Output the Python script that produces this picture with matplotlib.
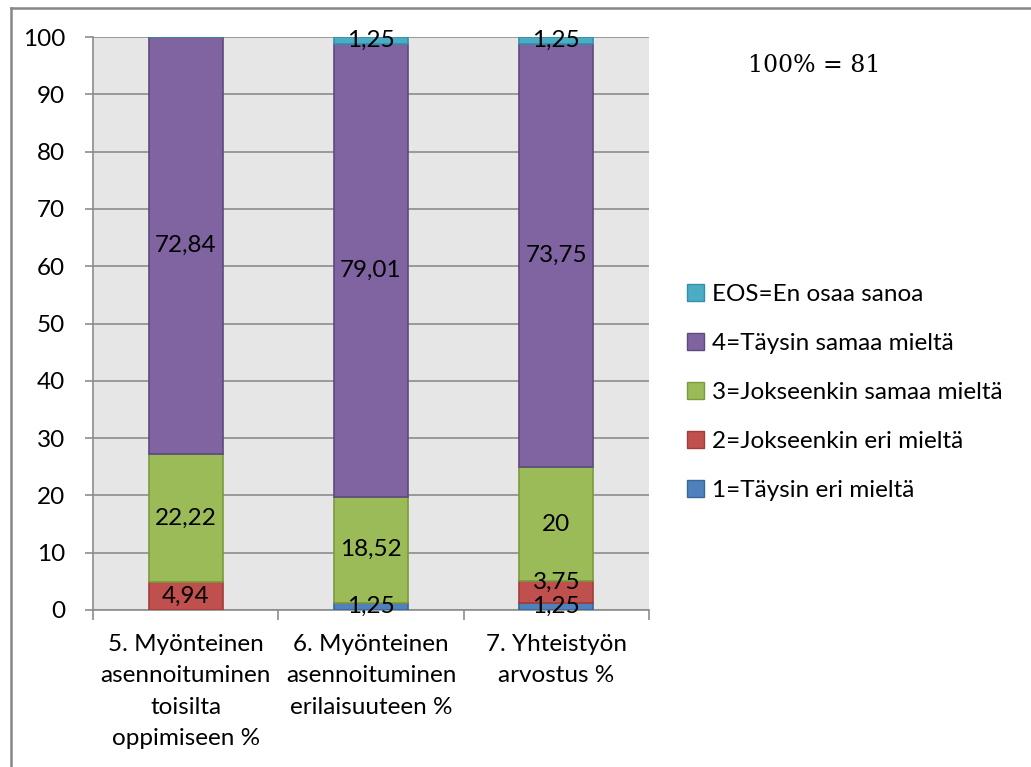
import matplotlib
matplotlib.use("Agg")
import matplotlib.pyplot as plt
from matplotlib.patches import Patch
from matplotlib.lines import Line2D

categories = ["5. Myönteinen\nasennoituminen\ntoisilta\noppimiseen %",
              "6. Myönteinen\nasennoituminen\nerilaisuuteen %",
              "7. Yhteistyön\narvostus %"]
series_names = ["1=Täysin eri mieltä", "2=Jokseenkin eri mieltä",
                "3=Jokseenkin samaa mieltä", "4=Täysin samaa mieltä",
                "EOS=En osaa sanoa"]
v1 = [0, 1.25, 1.25]
v2 = [4.94, 0, 3.75]
v3 = [22.22, 18.52, 20]
v4 = [72.84, 79.01, 73.75]
v_eos = [0, 1.25, 1.25]
series_values = [v1, v2, v3, v4, v_eos]
yticks = [0, 10, 20, 30, 40, 50, 60, 70, 80, 90, 100]
note = "100% = 81"

colors = ["#4F81BD", "#C0504D", "#9BBB59", "#8064A2", "#4BACC6"]
edges = ["#3A6597", "#A03D3A", "#7A9A3E", "#5E4A7D", "#3590A8"]

plt.rcParams['font.family'] = ['Lato', 'DejaVu Sans']
FS = 17.5

fig = plt.figure(figsize=(10.31, 7.67), dpi=100)
W, H = 1031, 767
ax = fig.add_axes([93 / W, 1 - 610 / H, (649 - 93) / W, (610 - 37) / H])
ax.set_facecolor("#E6E6E6")

x = list(range(len(categories)))
bottoms = [0.0] * len(categories)
prev_small = [False] * len(categories)
for vals, c, e in zip(series_values, colors, edges):
    ax.bar(x, vals, width=0.4, bottom=bottoms, color=c, edgecolor=e,
           linewidth=1.2, zorder=3)
    for i, v in enumerate(vals):
        if v > 0:
            small = v < 5
            dy = 7 if (small and prev_small[i]) else 0
            ax.annotate(f"{v:g}".replace(".", ","), (x[i], bottoms[i] + v / 2),
                        xytext=(0, dy), textcoords="offset points",
                        ha="center", va="center", fontsize=FS, color="black",
                        zorder=5)
            prev_small[i] = small
    bottoms = [b + v for b, v in zip(bottoms, vals)]

ax.set_xlim(-0.5, len(categories) - 0.5)
ax.set_ylim(0, 100)
ax.set_yticks(yticks)
ax.set_yticklabels([str(t) for t in yticks], fontsize=FS)
ax.yaxis.grid(True, color="#8C8C8C", linewidth=1.2, zorder=0)
ax.set_axisbelow(True)

ax.set_xticks(x)
ax.set_xticklabels(categories, fontsize=FS, linespacing=1.62)
ax.tick_params(axis="x", which="major", length=0, pad=17)
ax.set_xticks([i - 0.5 for i in range(len(categories) + 1)], minor=True)
ax.tick_params(axis="x", which="minor", length=7, width=1.2, color="#8C8C8C")
ax.tick_params(axis="y", length=6, width=1.2, color="#8C8C8C", pad=14)

for s in ["top", "right"]:
    ax.spines[s].set_visible(False)
for s in ["left", "bottom"]:
    ax.spines[s].set_color("#8C8C8C")
    ax.spines[s].set_linewidth(1.2)

# outer frame
fig.add_artist(Line2D([11 / W, 11 / W], [0, 1 - 8 / H], transform=fig.transFigure,
                      color="#878787", linewidth=1.8))
fig.add_artist(Line2D([11 / W, 1], [1 - 8 / H, 1 - 8 / H], transform=fig.transFigure,
                      color="#878787", linewidth=1.8))

handles = [Patch(facecolor=colors[i], edgecolor=edges[i], label=series_names[i])
           for i in range(4, -1, -1)]
fig.legend(handles=handles, loc="upper left", bbox_to_anchor=(687 / W, 1 - 284 / H),
           frameon=False, fontsize=FS, handlelength=0.68, handleheight=0.68,
           handletextpad=0.33, labelspacing=1.15, borderaxespad=0, borderpad=0)

fig.text(748 / W, 1 - 66 / H, note, fontsize=17, family=["DejaVu Serif"],
         ha="left", va="center")

fig.savefig("out.png", dpi=100, facecolor="white")
